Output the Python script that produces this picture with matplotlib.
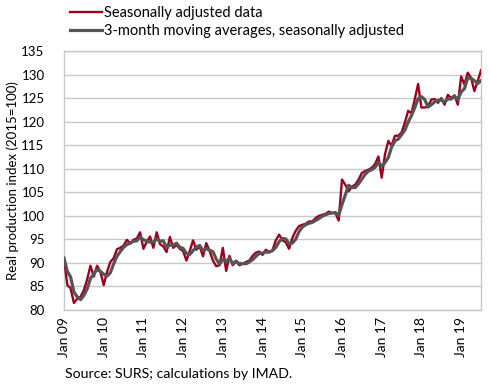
import numpy as np
import matplotlib
matplotlib.use("Agg")
import matplotlib.pyplot as plt

plt.rcParams['font.family'] = ['Lato', 'DejaVu Sans']

# monthly data Jan 2009 - Jul 2019
seasonally_adjusted = [
    91.0, 85.3, 84.6, 81.5, 82.4, 82.8, 84.2, 86.5, 89.4, 87.1, 89.4, 88.1,
    85.3, 88.1, 90.2, 91.0, 92.9, 93.2, 93.7, 94.9, 94.1, 94.9, 95.2, 96.5,
    93.0, 94.5, 95.6, 93.2, 96.5, 94.0, 93.5, 92.3, 95.5, 93.2, 93.8, 93.0,
    92.5, 90.5, 92.5, 94.8, 92.8, 93.5, 91.4, 94.2, 92.5, 90.5, 89.3, 89.5,
    93.2, 88.3, 91.5, 89.5, 90.3, 89.5, 89.8, 90.2, 90.5, 91.5, 92.2, 92.4,
    91.7, 92.8, 92.3, 92.7, 94.8, 96.0, 94.8, 94.4, 93.0, 95.3, 96.8, 97.8,
    98.1, 98.3, 98.8, 98.8, 99.5, 100.0, 100.2, 100.4, 100.9, 100.6, 100.6, 99.0,
    107.7, 106.6, 105.2, 106.2, 106.6, 107.7, 109.1, 109.5, 109.8, 110.2, 111.0, 112.6,
    108.1, 113.1, 115.9, 114.9, 117.0, 117.0, 117.7, 119.8, 122.3, 121.8, 124.8, 128.0,
    123.0, 123.0, 123.2, 124.7, 124.8, 124.0, 125.0, 123.6, 125.7, 125.0, 125.6, 123.6,
    129.6, 127.9, 130.4, 129.3, 126.5, 128.6, 130.9,
]

moving_avg_3m = [
    91.0, 88.2, 87.0, 83.8, 82.8, 82.2, 83.1, 84.5, 86.7, 87.7, 88.6, 88.2,
    87.6, 87.2, 87.9, 89.8, 91.4, 92.4, 93.3, 93.9, 94.2, 94.6, 94.7, 95.5,
    94.9, 94.7, 94.4, 94.4, 95.1, 94.6, 94.7, 93.3, 93.8, 93.7, 94.2, 93.3,
    93.1, 92.0, 91.8, 92.6, 93.4, 93.7, 92.6, 93.0, 92.7, 92.4, 90.8, 89.8,
    90.7, 90.3, 91.0, 89.8, 90.4, 89.8, 89.9, 89.8, 90.2, 90.7, 91.4, 92.0,
    92.1, 92.3, 92.3, 92.6, 93.3, 94.5, 95.2, 95.1, 94.1, 94.2, 95.0, 96.6,
    97.6, 98.1, 98.4, 98.6, 99.0, 99.4, 99.9, 100.2, 100.5, 100.6, 100.7, 100.1,
    102.4, 104.4, 106.5, 106.0, 106.0, 106.8, 107.8, 108.8, 109.5, 109.8, 110.3, 111.3,
    110.6, 111.3, 112.4, 114.6, 115.9, 116.3, 117.2, 118.2, 119.9, 121.3, 123.0, 124.9,
    125.3, 124.7, 123.1, 123.6, 124.2, 124.5, 124.6, 124.2, 124.8, 124.8, 125.4, 124.7,
    126.3, 127.0, 129.3, 129.2, 128.7, 128.1, 128.7,
]

tick_labels = ["Jan 09", "Jan 10", "Jan 11", "Jan 12", "Jan 13", "Jan 14",
               "Jan 15", "Jan 16", "Jan 17", "Jan 18", "Jan 19"]

months = np.arange(len(seasonally_adjusted))

fig = plt.figure(figsize=(4.9, 3.85), dpi=100)
ax = fig.add_axes([0.1306, 0.1948, 0.8510, 0.6727])

red_line, = ax.plot(months, seasonally_adjusted, color="#A0001E", lw=1.7,
                    label="Seasonally adjusted data", zorder=3)
gray_line, = ax.plot(months, moving_avg_3m, color="#555555", lw=2.3,
                     label="3-month moving averages, seasonally adjusted", zorder=4)

ax.set_xlim(0, len(months) - 1)
ax.set_ylim(80, 135)
ax.set_yticks(np.arange(80, 136, 5))
ax.set_xticks(np.arange(0, len(months), 12))
ax.set_xticklabels(tick_labels, rotation=90, fontsize=10)
ax.tick_params(axis='y', labelsize=9.5, length=0, pad=14)
ax.tick_params(axis='x', length=0, pad=5)
ax.grid(axis='y', color="#C8C8C8", lw=1)
ax.set_axisbelow(True)
for s in ax.spines.values():
    s.set_color("#C8C8C8")
    s.set_linewidth(1)

ax.set_ylabel("Real production index (2015=100)", fontsize=9.5, labelpad=2)

fig.legend(handles=[red_line, gray_line], loc="upper left",
           bbox_to_anchor=(0.125, 1.007), frameon=False, fontsize=10.5,
           handlelength=2.2, handletextpad=0.12, labelspacing=0.3,
           borderaxespad=0.2)

fig.text(0.133, 0.018, "Source: SURS; calculations by IMAD.", fontsize=10.2)

fig.savefig("out.png", dpi=100)
